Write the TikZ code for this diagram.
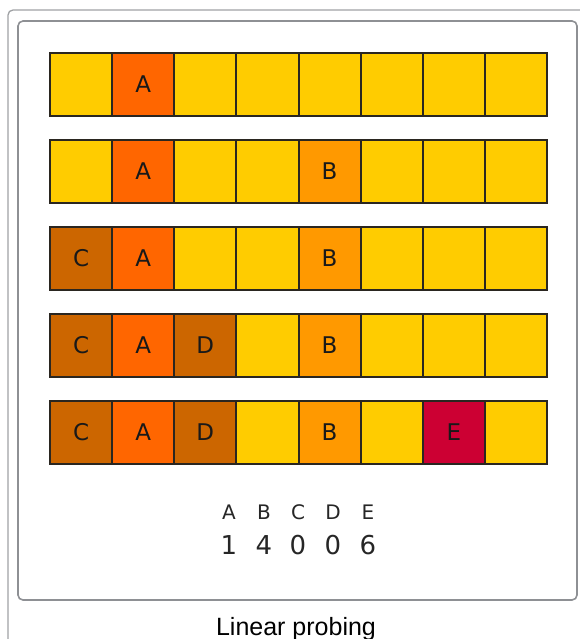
\documentclass[tikz,border=0pt]{standalone}
\usepackage{fontspec}
\setmainfont{Liberation Sans}
\newfontfamily\dv{DejaVu Sans}
\definecolor{colY}{HTML}{FFCC00}
\definecolor{colA}{HTML}{FF6600}
\definecolor{colB}{HTML}{FF9900}
\definecolor{colC}{HTML}{CC6600}
\definecolor{colD}{HTML}{CC6600}
\definecolor{colE}{HTML}{CC0033}
\definecolor{frame}{HTML}{8E9094}
\definecolor{cellline}{HTML}{2A2620}
\tikzset{
  cell/.style={draw=cellline, line width=2pt, minimum width=62.125pt, minimum height=62.5pt,
    inner sep=0pt, outer sep=0pt, font=\dv\fontsize{23pt}{23pt}\selectfont, text=black!90},
  keytxt/.style={font=\dv\fontsize{20pt}{20pt}\selectfont, text=black!85, inner sep=0pt},
  numtxt/.style={font=\dv\fontsize{26pt}{26pt}\selectfont, text=black!85, inner sep=0pt},
}
\begin{document}
\begin{tikzpicture}[x=1pt,y=-1pt]
\useasboundingbox (0,0) rectangle (579,639);
% frames
\draw[frame!85, line width=1.3pt, rounded corners=5pt] (8,700) -- (8,10) -- (600,10);
\draw[frame, line width=1.6pt, rounded corners=5pt] (18,21) rectangle (577,600);
% rows
\foreach \r/\lst in {1/{Y/{},A/A,Y/{},Y/{},Y/{},Y/{},Y/{},Y/{}},
                     2/{Y/{},A/A,Y/{},Y/{},B/B,Y/{},Y/{},Y/{}},
                     3/{C/C,A/A,Y/{},Y/{},B/B,Y/{},Y/{},Y/{}},
                     4/{C/C,A/A,D/D,Y/{},B/B,Y/{},Y/{},Y/{}},
                     5/{C/C,A/A,D/D,Y/{},B/B,Y/{},E/E,Y/{}}}{
  \foreach \c/\t [count=\i] in \lst {
    \node[cell, fill=col\c] (r\r c\i) at ({50+62.125*(\i-0.5)},{53+87*(\r-1)+31.5}) {\t};
  }
}
% hash values
\foreach \k/\v/\x in {A/1/229, B/4/264, C/0/298, D/0/333, E/6/368}{
  \node[keytxt] (k\k) at (\x,512) {\k};
  \node[numtxt] (v\k) at (\x,545) {\v};
}
% caption
\node[font=\fontsize{25pt}{25pt}\selectfont, anchor=base, inner sep=0pt] (cap) at (296,635) {Linear probing};
\end{tikzpicture}
\end{document}
